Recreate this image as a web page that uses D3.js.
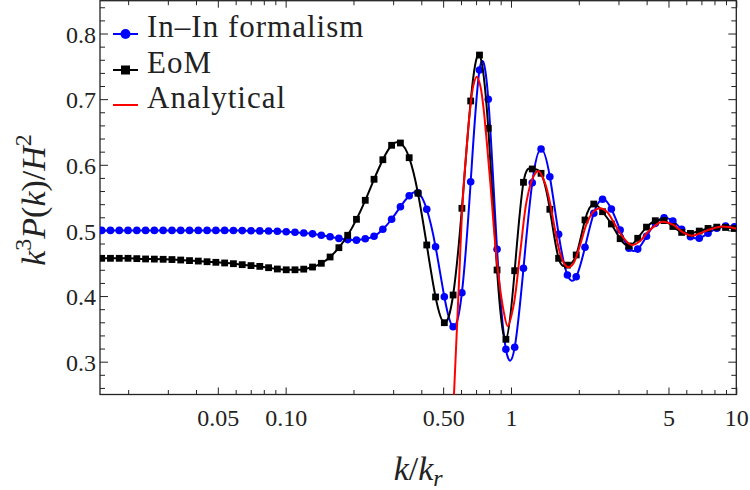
<html>

<head>
    <script src="https://d3js.org/d3.v7.min.js"></script>
    <style>
        body { margin: 0; background: #fff; }
        text { font-family: "Liberation Serif", serif; fill: #222; }
    </style>
</head>

<body>
    <svg id="power_svg" width="750" height="490"></svg>
    <script>
        // sample points of the two numerical curves (k / k_r)
        const kGrid = [0.01526, 0.01669, 0.01826, 0.01997, 0.02185, 0.02390, 0.02614, 0.02860, 0.03129, 0.03422,
            0.03744, 0.04096, 0.04480, 0.04901, 0.05361, 0.05865, 0.06416, 0.07019, 0.07678, 0.08399,
            0.09188, 0.1006, 0.1100, 0.1203, 0.1316, 0.1440, 0.1575, 0.1723, 0.1885, 0.2062,
            0.2256, 0.2468, 0.2700, 0.2953, 0.3231, 0.3534, 0.3866, 0.4229, 0.4627, 0.5061,
            0.5537, 0.6057, 0.6626, 0.7249, 0.7930, 0.8675, 0.9495, 1.0387, 1.1363, 1.2431,
            1.3599, 1.4877, 1.6275, 1.7803, 1.9477, 2.1307, 2.3309, 2.5500, 2.7895, 3.0514,
            3.3382, 3.6517, 3.9948, 4.3702, 4.7808, 5.2300, 5.7214, 6.2590, 6.8471, 7.4903,
            8.1939, 8.9640, 9.8062];

        const inInValues = [0.500, 0.500, 0.500, 0.500, 0.500, 0.500, 0.500, 0.500, 0.500, 0.500,
            0.500, 0.500, 0.500, 0.500, 0.500, 0.4998, 0.4997, 0.4995, 0.4993, 0.4990,
            0.4988, 0.4980, 0.4972, 0.4960, 0.4948, 0.4926, 0.4904, 0.4878, 0.4860, 0.4852,
            0.4872, 0.4910, 0.5017, 0.5170, 0.5361, 0.5529, 0.5575, 0.5322, 0.4752, 0.3990,
            0.3533, 0.4051, 0.5742, 0.7444, 0.6998, 0.4712, 0.3189, 0.3219, 0.4423, 0.5727,
            0.6240, 0.5818, 0.4941, 0.4321, 0.4295, 0.4743, 0.5261, 0.5474, 0.5326, 0.5006,
            0.4728, 0.4715, 0.4910, 0.5108, 0.5194, 0.5143, 0.5017, 0.4904, 0.4880, 0.4956,
            0.5032, 0.5067, 0.5057];

        const eomValues = [0.4575, 0.4575, 0.4575, 0.4575, 0.4570, 0.4565, 0.4563, 0.4560, 0.4556, 0.4549,
            0.4540, 0.4533, 0.4523, 0.4514, 0.4504, 0.4493, 0.4478, 0.4464, 0.4452, 0.4432,
            0.4412, 0.4400, 0.4400, 0.4410, 0.4442, 0.4499, 0.4595, 0.4737, 0.4926, 0.5169,
            0.5459, 0.5779, 0.6077, 0.6297, 0.6332, 0.6108, 0.5566, 0.4778, 0.3986, 0.3594,
            0.4016, 0.5337, 0.6972, 0.7672, 0.6556, 0.4397, 0.3341, 0.4386, 0.5733, 0.5936,
            0.5870, 0.5322, 0.4575, 0.4471, 0.4626, 0.5159, 0.5402, 0.5285, 0.5098, 0.4874,
            0.4763, 0.4880, 0.5050, 0.5148, 0.5150, 0.5060, 0.4970, 0.4955, 0.4990, 0.5030,
            0.5050, 0.5045, 0.5030];

        // analytical curve
        const analyticK = [0.5503, 0.5840, 0.6109, 0.6363, 0.6582, 0.6821, 0.7047, 0.7291, 0.7541, 0.8076,
            0.8647, 0.9254, 0.9678, 1.0249, 1.0975, 1.1752, 1.2573, 1.3236, 1.4167, 1.4913,
            1.5694, 1.6520, 1.7386, 1.7985, 1.8929, 2.0267, 2.1705, 2.3220, 2.4863, 2.6633,
            2.8489, 3.0508, 3.2674, 3.4386, 3.7436, 4.0087, 4.1466, 4.5930, 4.7502, 5.2615,
            5.8278, 6.3517, 6.9166, 7.6620, 8.4866, 9.3954, 10.0];
        const analyticValues = [0.200, 0.399, 0.546, 0.628, 0.6835, 0.722, 0.734, 0.722, 0.6885, 0.577,
            0.455, 0.379, 0.354, 0.384, 0.465, 0.546, 0.582, 0.5905, 0.5718, 0.5413,
            0.5006, 0.4651, 0.4473, 0.4438, 0.4499, 0.4778, 0.5108, 0.5285, 0.5337, 0.5285,
            0.5133, 0.4956, 0.4828, 0.4778, 0.4840, 0.4960, 0.5010, 0.5124, 0.5133, 0.5083,
            0.4965, 0.4920, 0.4956, 0.5017, 0.5057, 0.5047, 0.5026];

        const xMajorTicks = [0.05, 0.1, 0.5, 1, 5, 10];
        const xMajorLabels = ["0.05", "0.10", "0.50", "1", "5", "10"];
        const xMinorTicks = [0.02, 0.03, 0.04, 0.06, 0.07, 0.08, 0.09, 0.2, 0.3, 0.4, 0.6, 0.7, 0.8, 0.9,
            2, 3, 4, 6, 7, 8, 9];
        const yMajorTicks = [0.3, 0.4, 0.5, 0.6, 0.7, 0.8];
        const yMajorLabels = ["0.3", "0.4", "0.5", "0.6", "0.7", "0.8"];
        const yMinorTicks = [0.26, 0.28, 0.32, 0.34, 0.36, 0.38, 0.42, 0.44, 0.46, 0.48, 0.52, 0.54, 0.56, 0.58,
            0.62, 0.64, 0.66, 0.68, 0.72, 0.74, 0.76, 0.78, 0.82, 0.84];

        const legendNames = ["In\u2013In formalism", "EoM", "Analytical"];
        const seriesColors = ["#0000ff", "#000000", "#ff0000"];

        const svg = d3.select("#power_svg");
        const plotLeft = 100, plotRight = 736.3, plotTop = 0.7, plotBottom = 394.5;

        const xScale = d3.scaleLog().domain([0.015, 10]).range([plotLeft, plotRight]);
        const yScale = d3.scaleLinear().domain([0.25, 0.85]).range([plotBottom, plotTop]);

        svg.append("clipPath").attr("id", "plotclip")
            .append("rect")
            .attr("x", plotLeft).attr("y", plotTop)
            .attr("width", plotRight - plotLeft).attr("height", plotBottom - plotTop);

        // frame ticks (inside, Mathematica style)
        function styleAxis(g) {
            g.select(".domain").remove();
            g.attr("color", "#222").attr("font-family", "Liberation Serif, serif").attr("font-size", 24);
            g.selectAll("line").attr("stroke-width", 1);
        }

        svg.append("g").attr("transform", "translate(0," + plotBottom + ")")
            .call(d3.axisBottom(xScale).tickValues(xMajorTicks).tickSize(-7).tickPadding(14)
                .tickFormat((d, i) => xMajorLabels[i]))
            .call(styleAxis);
        svg.append("g").attr("transform", "translate(0," + plotBottom + ")")
            .call(d3.axisBottom(xScale).tickValues(xMinorTicks).tickSize(-4.5).tickFormat(""))
            .call(styleAxis);
        svg.append("g").attr("transform", "translate(0," + plotTop + ")")
            .call(d3.axisTop(xScale).tickValues(xMajorTicks).tickSize(-7).tickFormat(""))
            .call(styleAxis);
        svg.append("g").attr("transform", "translate(0," + plotTop + ")")
            .call(d3.axisTop(xScale).tickValues(xMinorTicks).tickSize(-4.5).tickFormat(""))
            .call(styleAxis);

        const leftAxis = svg.append("g").attr("transform", "translate(" + plotLeft + ",0)")
            .call(d3.axisLeft(yScale).tickValues(yMajorTicks).tickSize(-8).tickPadding(4)
                .tickFormat((d, i) => yMajorLabels[i]))
            .call(styleAxis);
        leftAxis.selectAll("text").attr("dy", "0.36em");
        svg.append("g").attr("transform", "translate(" + plotLeft + ",0)")
            .call(d3.axisLeft(yScale).tickValues(yMinorTicks).tickSize(-5).tickFormat(""))
            .call(styleAxis);
        svg.append("g").attr("transform", "translate(" + plotRight + ",0)")
            .call(d3.axisRight(yScale).tickValues(yMajorTicks).tickSize(-8).tickFormat(""))
            .call(styleAxis);
        svg.append("g").attr("transform", "translate(" + plotRight + ",0)")
            .call(d3.axisRight(yScale).tickValues(yMinorTicks).tickSize(-5).tickFormat(""))
            .call(styleAxis);

        svg.append("rect")
            .attr("x", plotLeft).attr("y", plotTop)
            .attr("width", plotRight - plotLeft).attr("height", plotBottom - plotTop)
            .attr("fill", "none").attr("stroke", "#222").attr("stroke-width", 1.3);

        // curves
        const plot = svg.append("g").attr("clip-path", "url(#plotclip)");

        const gridLine = d3.line()
            .x((d, i) => xScale(kGrid[i]))
            .y(d => yScale(d))
            .curve(d3.curveNatural);

        plot.append("path").datum(inInValues)
            .attr("d", gridLine).attr("fill", "none")
            .attr("stroke", seriesColors[0]).attr("stroke-width", 2);
        plot.selectAll(".inin").data(inInValues).enter().append("circle")
            .attr("class", "inin")
            .attr("cx", (d, i) => xScale(kGrid[i]))
            .attr("cy", d => yScale(d))
            .attr("r", 3.8)
            .attr("fill", seriesColors[0]);

        plot.append("path").datum(eomValues)
            .attr("d", gridLine).attr("fill", "none")
            .attr("stroke", seriesColors[1]).attr("stroke-width", 2);
        plot.selectAll(".eom").data(eomValues).enter().append("rect")
            .attr("class", "eom")
            .attr("x", (d, i) => xScale(kGrid[i]) - 3.4)
            .attr("y", d => yScale(d) - 3.4)
            .attr("width", 6.8).attr("height", 6.8)
            .attr("fill", seriesColors[1]);

        const analyticLine = d3.line()
            .x((d, i) => xScale(analyticK[i]))
            .y(d => yScale(d))
            .curve(d3.curveCatmullRom.alpha(0.5));
        plot.append("path").datum(analyticValues)
            .attr("d", analyticLine).attr("fill", "none")
            .attr("stroke", seriesColors[2]).attr("stroke-width", 2);

        // legend
        const legendY = [34, 70, 105];
        legendNames.forEach((name, i) => {
            let g = svg.append("g").attr("transform", "translate(113," + legendY[i] + ")");
            g.append("line").attr("x1", 0).attr("x2", 25).attr("y1", 0).attr("y2", 0)
                .attr("stroke", seriesColors[i]).attr("stroke-width", 2);
            if (i == 0) {
                g.append("circle").attr("cx", 12.5).attr("cy", 0).attr("r", 5).attr("fill", seriesColors[i]);
            } else if (i == 1) {
                g.append("rect").attr("x", 8).attr("y", -4.5).attr("width", 9).attr("height", 9)
                    .attr("fill", seriesColors[i]);
            }
            g.append("text").attr("x", 34).attr("y", 2.5)
                .attr("font-size", 31)
                .attr("letter-spacing", 1)
                .text(name);
        });

        // axis labels
        const xLabel = svg.append("text")
            .attr("x", (plotLeft + plotRight) / 2)
            .attr("y", 480)
            .attr("text-anchor", "middle")
            .attr("font-size", 34);
        xLabel.append("tspan").attr("font-style", "italic").text("k");
        xLabel.append("tspan").text("/");
        xLabel.append("tspan").attr("font-style", "italic").text("k");
        xLabel.append("tspan").attr("font-style", "italic").attr("font-size", 24).attr("dy", 6).text("r");

        const yLabel = svg.append("text")
            .attr("transform", "translate(45,200) rotate(-90)")
            .attr("text-anchor", "middle")
            .attr("font-size", 34);
        yLabel.append("tspan").attr("font-style", "italic").text("k");
        yLabel.append("tspan").attr("font-size", 24).attr("dy", -14).text("3");
        yLabel.append("tspan").attr("font-style", "italic").attr("dy", 14).text("P");
        yLabel.append("tspan").text("(");
        yLabel.append("tspan").attr("font-style", "italic").text("k");
        yLabel.append("tspan").text(")/");
        yLabel.append("tspan").attr("font-style", "italic").text("H");
        yLabel.append("tspan").attr("font-size", 24).attr("dy", -14).text("2");
    </script>
</body>

</html>
